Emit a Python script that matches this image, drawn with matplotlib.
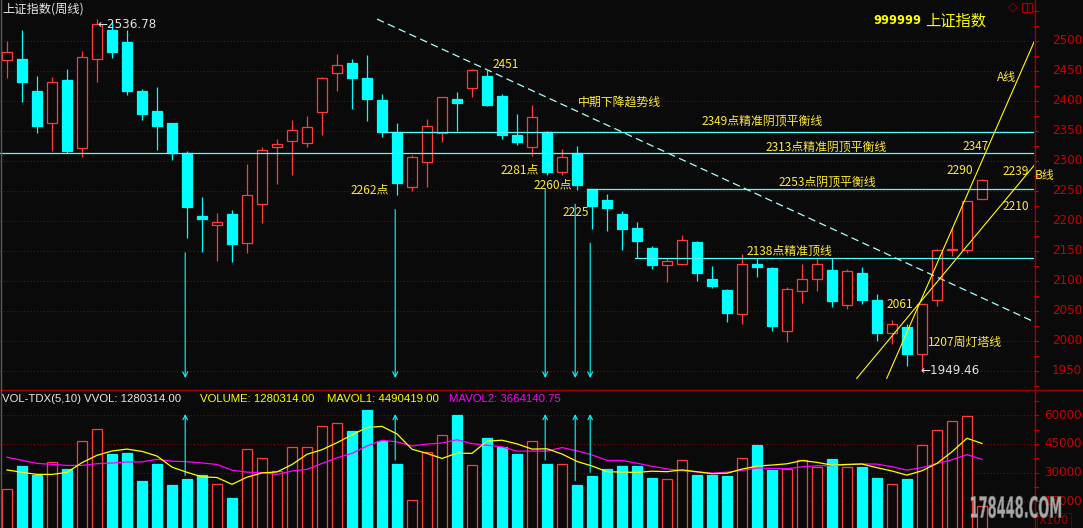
import numpy as np
import pandas as pd
import matplotlib
matplotlib.use("Agg")
import matplotlib.pyplot as plt
from matplotlib.patches import Rectangle, PathPatch
from matplotlib.textpath import TextPath
from matplotlib.font_manager import FontProperties
from matplotlib.transforms import Affine2D, blended_transform_factory
from matplotlib.lines import Line2D

plt.rcParams['font.family'] = ['Noto Sans CJK SC', 'DejaVu Sans']

# --- weekly candles of the Shanghai Composite ---
opens = [2468, 2470, 2417, 2363, 2435, 2321, 2470, 2518, 2498, 2417,
         2383, 2363, 2313, 2208, 2193, 2212, 2164, 2229, 2324, 2334,
         2330, 2382, 2446, 2464, 2438, 2402, 2349, 2257, 2299, 2346,
         2403, 2421, 2442, 2408, 2343, 2324, 2349, 2282, 2313, 2253,
         2235, 2212, 2188, 2155, 2127, 2129, 2165, 2103, 2085, 2045,
         2128, 2122, 2016, 2084, 2104, 2118, 2060, 2113, 2069, 2013,
         2023, 1978, 2068, 2151, 2151, 2236]
highs = [2500, 2518, 2442, 2440, 2453, 2483, 2536.78, 2534, 2518, 2420,
         2423, 2364, 2317, 2240, 2213, 2218, 2295, 2323, 2337, 2368,
         2375, 2440, 2478, 2470, 2477, 2412, 2363, 2310, 2370, 2407,
         2415, 2453, 2451, 2412, 2378, 2393, 2350, 2320, 2325, 2253,
         2245, 2217, 2198, 2159, 2139, 2177, 2166, 2125, 2086, 2145,
         2139, 2123, 2090, 2128, 2139, 2139, 2120, 2124, 2079, 2035,
         2028, 2062, 2153, 2190, 2234, 2270]
lows = [2439, 2399, 2347, 2317, 2314, 2306, 2432, 2472, 2410, 2368,
        2318, 2302, 2171, 2149, 2134, 2132, 2147, 2196, 2262, 2277,
        2324, 2343, 2417, 2387, 2366, 2340, 2243, 2250, 2257, 2332,
        2350, 2407, 2392, 2337, 2327, 2309, 2277, 2277, 2252, 2187,
        2184, 2152, 2138, 2120, 2099, 2127, 2100, 2089, 2032, 2029,
        2107, 2017, 1999, 2063, 2084, 2057, 2053, 2062, 2000, 1995,
        1959, 1949.46, 2059, 2142, 2146, 2236]
closes = [2481, 2432, 2359, 2431, 2316, 2473, 2528, 2481, 2416, 2379,
          2359, 2313, 2224, 2204, 2199, 2162, 2244, 2319, 2329, 2352,
          2356, 2439, 2460, 2439, 2404, 2349, 2263, 2306, 2359, 2406,
          2396, 2452, 2394, 2343, 2332, 2373, 2281, 2307, 2260, 2225,
          2222, 2186, 2167, 2127, 2133, 2168, 2114, 2092, 2047, 2128,
          2124, 2025, 2086, 2104, 2128, 2066, 2117, 2069, 2014, 2028,
          1979, 2061, 2151, 2153, 2233, 2269]
# volume in units of 100 (axis shows X100)
volumes = [21330, 33400, 28700, 35380, 31780, 46730, 52630, 39880, 40400, 25820,
           34500, 23680, 26400, 28540, 24040, 16680, 42390, 37530, 31050, 43480,
           43480, 54250, 55870, 51740, 62560, 46360, 34500, 15940, 40770, 49390,
           60360, 33760, 47980, 43120, 39880, 46730, 34500, 34340, 23680, 28020,
           31830, 33450, 33450, 26920, 26760, 36530, 28540, 28540, 28020, 37580,
           44320, 31260, 31830, 36530, 32720, 37210, 33090, 32880, 26920, 24040,
           26400, 44630, 52260, 57120, 59320, 12803]
# moving averages for the first weeks depend on earlier data
ma5_head = [31400, 30150, 29050, 29050]
ma10_head = [38050, 36430, 34810, 34290, 33760, 33760, 34650, 35020, 35540]

# hand-drawn analysis marks
arrow_weeks = [12, 26, 36, 38, 39]
level_prices = [2349, 2313, 2253, 2139]
level_from = [25, -0.47, 38.65, 41.85]
trend_down_x, trend_down_y = [24.67, 68.47], [2536.5, 2032]
line_a_x, line_a_y = [58.65, 68.47], [1937.8, 2498.3]
line_b_x, line_b_y = [56.65, 68.47], [1937.8, 2292.5]

BG = '#0a0a0a'
RED = '#ff3c3c'
CYAN = '#00ffff'
LEVEL = '#50ffff'
YEL = '#ffff00'
LBL = '#ffe83a'
MAG = '#ff00ff'
AXRED = '#c80000'
GRID = '#900000'

W, H = 1083, 528
PX_RIGHT = 1034
PX_SPLIT = 390


def fx(px):
    return px / W


def fy(py):
    return 1 - py / H


fig = plt.figure(figsize=(W / 100, H / 100), dpi=100, facecolor=BG)
ax = fig.add_axes([0, fy(PX_SPLIT), fx(PX_RIGHT), PX_SPLIT / H])
axv = fig.add_axes([0, 0, fx(PX_RIGHT), (H - PX_SPLIT) / H])

x0, x1 = -7 / 15, (PX_RIGHT - 7) / 15
for a in (ax, axv):
    a.set_facecolor(BG)
    a.set_xlim(x0, x1)
    a.set_xticks([])
    a.set_yticks([])
    for s in a.spines.values():
        s.set_visible(False)
ax.set_ylim(2500 - 349 / 0.6, 2500 + 41 / 0.6)
axv.set_ylim(45000 - 84.1 * 522.6, 45000 + 53.9 * 522.6)

dotted = (0, (1, 2))
for lvl in range(1950, 2501, 50):
    ax.axhline(lvl, color=GRID, lw=0.8, ls=dotted, zorder=1)
for lvl in [15000, 30000, 45000, 60000]:
    axv.axhline(lvl, color=GRID, lw=0.8, ls=dotted, zorder=1)

# --- candles and volume bars ---
BW = 0.7
x = np.arange(len(opens))
for i in x:
    o, h, l, c = opens[i], highs[i], lows[i], closes[i]
    up = c >= o
    col = RED if up else CYAN
    ax.vlines(i, l, h, color=col, lw=0.9, zorder=3)
    bottom = min(o, c)
    height = max(abs(c - o), 0.8)
    ax.add_patch(Rectangle((i - BW / 2, bottom), BW, height,
                           facecolor=BG if up else CYAN, edgecolor=col,
                           lw=0.9, zorder=4))
    axv.add_patch(Rectangle((i - BW / 2, 0), BW, volumes[i],
                            facecolor=BG if up else CYAN, edgecolor=col,
                            lw=0.9, zorder=3))

vol = pd.Series(volumes, dtype=float)
ma5 = vol.rolling(5).mean().values
ma10 = vol.rolling(10).mean().values
ma5[:len(ma5_head)] = ma5_head
ma10[:len(ma10_head)] = ma10_head
axv.plot(x, ma10, color=MAG, lw=0.9, zorder=5)
axv.plot(x, ma5, color=YEL, lw=0.9, zorder=6)

# --- level lines, trend lines and arrows ---
for p, start in zip(level_prices, level_from):
    ax.plot([start, x1], [p, p], color=LEVEL, lw=0.9, zorder=5)
ax.plot(trend_down_x, trend_down_y, color='#a8ffff', lw=0.9,
        ls=(0, (6, 3.5)), zorder=5)
ax.plot(line_a_x, line_a_y, color=YEL, lw=0.8, zorder=6)
ax.plot(line_b_x, line_b_y, color=YEL, lw=0.8, zorder=6)

for k in arrow_weeks:
    ax.annotate('', xy=(k - 0.12, 1938.3), xytext=(k - 0.12, lows[k] - 24),
                arrowprops=dict(arrowstyle='->', color=CYAN, lw=0.8,
                                shrinkA=0, shrinkB=0, mutation_scale=9),
                zorder=5)
    axv.annotate('', xy=(k - 0.12, 60600), xytext=(k - 0.12, volumes[k] + 2100),
                 arrowprops=dict(arrowstyle='->', color=CYAN, lw=0.8,
                                 shrinkA=0, shrinkB=0, mutation_scale=8),
                 zorder=5)

# --- notes on the price panel (pixel positions) ---
notes = [
    ("2349点精准阴顶平衡线", 702, 121),
    ("2313点精准阴顶平衡线", 766, 147),
    ("2253点阴顶平衡线", 779, 182),
    ("2138点精准顶线", 747, 251),
    ("中期下降趋势线", 578, 102),
    ("2451", 493, 64),
    ("2262点", 351, 190),
    ("2281点", 501, 170),
    ("2260点", 534, 185),
    ("2225", 563, 212),
    ("2061", 887, 305),
    ("1207周灯塔线", 928, 342),
    ("2290", 947, 170),
    ("2347", 963, 146),
    ("2239", 1003, 172),
    ("2210", 1003, 207),
    ("B线", 1035, 176),
    ("A线", 997, 77),
]
for txt, px, py in notes:
    fig.text(fx(px), fy(py), txt, color=LBL, fontsize=8.6, ha='left',
             va='center', zorder=10)

fig.text(fx(920), fy(371), "←1949.46", color='#e0e0e0', fontsize=8.6,
         family=['DejaVu Sans'], ha='left', va='center')
fig.text(fx(97), fy(25), "←2536.78", color='#e0e0e0', fontsize=8.6,
         family=['DejaVu Sans'], ha='left', va='center')
fig.text(fx(2), fy(9), "上证指数(周线)", color='#e8e8e8', fontsize=8.8,
         ha='left', va='center')
fig.text(fx(873), fy(21), "999999", color=YEL, fontsize=8.3,
         fontweight='bold', family=['DejaVu Sans'], ha='left', va='center')
fig.text(fx(925), fy(21), "上证指数", color=YEL, fontsize=11,
         ha='left', va='center')

# volume header
hdr = [("VOL-TDX(5,10) VVOL: 1280314.00", 2, '#e8e8e8'),
       ("VOLUME: 1280314.00", 200, YEL),
       ("MAVOL1: 4490419.00", 327, YEL),
       ("MAVOL2: 3664140.75", 449, MAG)]
for txt, px, col in hdr:
    fig.text(fx(px), fy(399), txt, color=col, fontsize=8.2,
             family=['Liberation Sans'], ha='left', va='center')

# --- right axis ---
tp = blended_transform_factory(fig.transFigure, ax.transData)
for lvl in range(1950, 2501, 50):
    fig.text(fx(1082), lvl, str(lvl), transform=tp, color=AXRED,
             fontsize=8.6, family=['DejaVu Sans'], ha='right', va='center')
for lvl in np.arange(1925, 2551, 25):
    fig.add_artist(Line2D([fx(PX_RIGHT), fx(PX_RIGHT + 4)], [lvl, lvl],
                          transform=tp, color=AXRED, lw=0.8))
tv = blended_transform_factory(fig.transFigure, axv.transData)
for lvl in [15000, 30000, 45000, 60000]:
    fig.text(fx(1082), lvl, str(lvl), transform=tv, color=AXRED,
             fontsize=8.6, family=['DejaVu Sans'], ha='right', va='center')
for lvl in np.arange(7500, 67501, 7500):
    fig.add_artist(Line2D([fx(PX_RIGHT), fx(PX_RIGHT + 4)], [lvl, lvl],
                          transform=tv, color=AXRED, lw=0.8))

fig.add_artist(Line2D([fx(PX_RIGHT + 0.5)] * 2, [0, 1], color='#a00000', lw=1))
fig.add_artist(Line2D([0, 1], [fy(PX_SPLIT)] * 2, color='#a00000', lw=1))
fig.add_artist(Line2D([fx(0.5)] * 2, [0, 1], color='#5a5a5a', lw=1))

# top-right icons
fig.text(fx(1013), fy(7), "◇", color='#a00000', fontsize=9,
         family=['DejaVu Sans'], ha='center', va='center')
fig.add_artist(Rectangle((fx(1022), fy(12)), 10 / W, 9 / H,
                         transform=fig.transFigure, facecolor='none',
                         edgecolor='#a00000', lw=0.9))
fig.add_artist(Line2D([fx(1027)] * 2, [fy(12), fy(3)], color='#a00000', lw=0.9))

# X100 box
fig.text(fx(1039), fy(521), "X100", color='#a00000', fontsize=8.5,
         family=['DejaVu Sans'], ha='left', va='center',
         bbox=dict(facecolor='none', edgecolor='#600000', pad=1.2, lw=0.8))

# watermark
wm = TextPath((0, 0), "178448.COM", size=10,
              prop=FontProperties(family='DejaVu Sans', weight='bold'))
bb = wm.get_extents()
wm_tr = (Affine2D().translate(-bb.x0, -bb.y0)
         .scale(90 / bb.width, 22 / bb.height)
         .translate(971, H - 518)
         .scale(1 / W, 1 / H)) + fig.transFigure
fig.add_artist(PathPatch(wm, transform=wm_tr, facecolor='#d0d0d0',
                         edgecolor='#707070', lw=0.4, alpha=0.8, zorder=20))

fig.savefig('out.png', dpi=100, facecolor=BG)
